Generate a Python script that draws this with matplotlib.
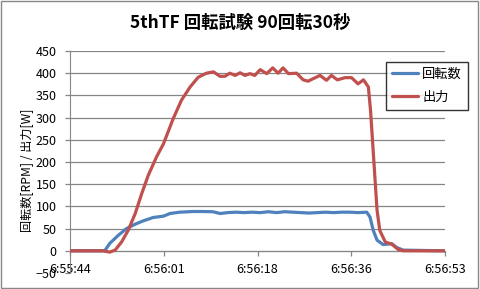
import matplotlib
matplotlib.use('Agg')
import matplotlib.pyplot as plt
from matplotlib.patches import Rectangle

plt.rcParams['font.family'] = ['Noto Sans CJK JP', 'DejaVu Sans']

# data (x = seconds since 6:55:44)
tick_labels = ['6:55:44', '6:56:01', '6:56:18', '6:56:36', '6:56:53']
t_rpm = [0, 6.4, 7.3, 8.9, 10.4, 12.0, 13.5, 15.3, 17.2, 18.4, 20.2, 22.7, 24.5, 26.3, 27.6,
         29, 30.5, 32, 33.5, 35, 36.5, 38, 39.5, 41, 42.5, 44, 45.5, 47, 48.5, 50, 51.5, 53,
         54.6, 55.2, 55.8, 56.5, 57.6, 59.2, 60.1, 61.3, 69]
rpm = [0, 0, 16.5, 35, 50, 60, 67.5, 75, 78, 84, 87, 88.5, 88.5, 88, 84,
       86, 87, 86, 87, 86, 88, 86, 88, 87, 86, 85, 86, 87, 86, 87, 87, 86,
       87, 76, 46, 24, 14, 16, 7.5, 1.5, 0]
t_pw = [0, 6.1, 7.3, 8.3, 9.5, 10.7, 12.0, 13.2, 14.4, 15.9, 17.2, 17.8, 19.0, 20.5, 22.1,
        23.6, 25.1, 26.4, 27.6, 28.5, 29.4, 30.4, 31.3, 32.2, 33.1, 34.0, 35.0, 36.2, 37.3,
        38.3, 39.2, 40.2, 41.7, 42.9, 43.8, 44.8, 46.0, 47.2, 48.1, 49.2, 50.6, 51.8, 53.0,
        54.0, 54.9, 55.3, 55.7, 56.1, 56.5, 57.0, 58.0, 59.2, 60.4, 61.3, 69]
pw = [0, 0, -3, 1.5, 20, 46, 84, 129, 170, 211, 241, 260, 298, 339, 369,
      391, 400, 403, 393, 393, 400, 395, 401, 395, 399, 395, 408, 399, 412,
      400, 412, 399, 400, 385, 382, 388, 395, 384, 395, 385, 390, 390, 376,
      385, 369, 316, 241, 166, 91, 46, 20, 15, 3, 0, 0]

W, H = 481, 289
fig = plt.figure(figsize=(W / 100, H / 100), dpi=100)
ax = fig.add_axes([70 / W, 1 - 273 / H, 375 / W, 222 / H])

grid_c = '#868686'
for v in range(0, 451, 50):
    ax.axhline(v, color=grid_c, lw=0.9, zorder=1)

ax.plot(t_rpm, rpm, color='#4F81BD', lw=2.3, label='回転数', zorder=3, solid_capstyle='round')
ax.plot(t_pw, pw, color='#C0504D', lw=2.3, label='出力', zorder=3, solid_capstyle='round')

ax.set_xlim(0, 69)
ax.set_ylim(-50, 450)
ax.set_yticks(range(-50, 451, 50))
xt = [69 * i / 4 for i in range(5)]
ax.set_xticks(xt)
ax.set_xticklabels(tick_labels)

for s in ['top', 'right']:
    ax.spines[s].set_visible(False)
ax.spines['bottom'].set_position(('data', 0))
ax.spines['bottom'].set_color(grid_c)
ax.spines['left'].set_color(grid_c)
ax.tick_params(axis='both', colors=grid_c, labelcolor='black', labelsize=9, length=3.5, width=0.9)
ax.tick_params(axis='y', pad=6)
ax.tick_params(axis='x', pad=5)
ax.patch.set_alpha(0)

fig.text(240 / W, 1 - 23 / H, '5thTF 回転試験 90回転30秒', ha='center', va='center',
         fontsize=12.5, fontweight='bold')
fig.text(27 / W, 1 - 170 / H, '回転数[RPM] / 出力[W]', ha='center', va='center',
         rotation=90, fontsize=8.7)

leg = fig.legend(loc='upper left', bbox_to_anchor=(386 / W, 1 - 62 / H), fontsize=9.5,
                 frameon=True, fancybox=False, edgecolor='black', handlelength=2.0,
                 labelspacing=0.75, borderpad=0.45, handletextpad=0.3, borderaxespad=0)
leg.get_frame().set_linewidth(1.0)

fig.patches.append(Rectangle((1 / W, 1 / H), 477 / W, 287 / H, transform=fig.transFigure,
                             fill=False, edgecolor='#888888', lw=1))

fig.savefig('out.png', dpi=100)
